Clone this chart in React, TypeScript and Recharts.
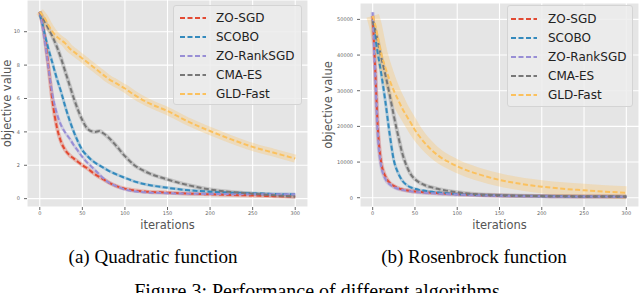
import React from 'react';
import { LineChart, Line, XAxis, YAxis, CartesianGrid, Label } from 'recharts';

// shared sample points (iterations)
const iterations = [0, 3, 6, 10, 15, 20, 25, 30, 35, 40, 45, 50, 55, 60, 65, 70, 75, 80, 90, 100, 110, 125, 150, 175, 200, 225, 250, 275, 300];
const xTicks = [0, 50, 100, 150, 200, 250, 300];

// (a) Quadratic function
const quadZoSgd = [11.2, 10.5, 9.6, 8.0, 5.8, 4.3, 3.4, 2.9, 2.6, 2.4, 2.2, 2.0, 1.85, 1.65, 1.45, 1.3, 1.15, 1.0, 0.75, 0.6, 0.5, 0.42, 0.36, 0.3, 0.26, 0.22, 0.19, 0.15, 0.12];
const quadScobo = [11.0, 10.5, 9.8, 9.0, 8.1, 7.2, 6.4, 5.5, 4.7, 4.0, 3.4, 2.9, 2.6, 2.35, 2.15, 2.0, 1.85, 1.7, 1.45, 1.25, 1.05, 0.85, 0.65, 0.5, 0.42, 0.36, 0.32, 0.28, 0.26];
const quadRank = [11.2, 10.4, 9.4, 7.9, 6.2, 5.1, 4.4, 3.95, 3.6, 3.2, 2.85, 2.5, 2.2, 1.95, 1.7, 1.45, 1.2, 1.0, 0.75, 0.55, 0.45, 0.38, 0.33, 0.3, 0.28, 0.27, 0.26, 0.26, 0.26];
const quadCma = [11.2, 10.9, 10.6, 10.2, 9.7, 9.1, 8.4, 7.6, 6.8, 6.0, 5.3, 4.7, 4.25, 4.05, 4.0, 4.05, 3.9, 3.7, 3.15, 2.55, 2.05, 1.6, 1.15, 0.8, 0.55, 0.4, 0.3, 0.2, 0.12];
const quadGld = [11.2, 11.0, 10.8, 10.4, 10.0, 9.7, 9.5, 9.3, 9.0, 8.8, 8.6, 8.4, 8.2, 8.0, 7.8, 7.6, 7.4, 7.2, 6.9, 6.6, 6.25, 5.8, 5.25, 4.6, 4.05, 3.55, 3.1, 2.75, 2.4];
const quadYTicks = [0, 2, 4, 6, 8, 10];

// (b) Rosenbrock function
const rosZoSgd = [51000, 36000, 20000, 10000, 6000, 4200, 3300, 2700, 2350, 2100, 1900, 1750, 1650, 1550, 1450, 1380, 1320, 1250, 1120, 1000, 900, 750, 600, 500, 450, 400, 350, 330, 300];
const rosScobo = [50000, 45000, 40500, 35000, 27000, 18000, 10500, 7000, 4800, 3600, 2900, 2500, 2200, 2000, 1800, 1650, 1500, 1400, 1200, 1000, 900, 750, 600, 500, 430, 380, 340, 320, 300];
const rosRank = [52000, 34000, 18000, 9000, 5300, 3800, 3000, 2500, 2200, 2000, 1800, 1650, 1500, 1400, 1300, 1250, 1200, 1100, 1000, 900, 800, 700, 550, 450, 400, 350, 330, 310, 300];
const rosCma = [49500, 47000, 44000, 39500, 34500, 29000, 23000, 17500, 12500, 9000, 6600, 5200, 4300, 3700, 3200, 2900, 2600, 2300, 1900, 1550, 1250, 950, 700, 550, 450, 400, 360, 340, 320];
const rosGld = [51000, 48500, 45000, 40500, 36500, 33000, 30000, 27500, 25000, 23000, 21000, 19000, 17300, 15800, 14500, 13300, 12300, 11400, 10000, 8800, 7800, 6600, 5000, 3900, 3100, 2500, 2100, 1700, 1400];
const rosYTicks = [0, 10000, 20000, 30000, 40000, 50000];

const seriesNames = ['ZO-SGD', 'SCOBO', 'ZO-RankSGD', 'CMA-ES', 'GLD-Fast'];
const colors = ['#E24A33', '#348ABD', '#988ED5', '#777777', '#FBC15E'];

const FONT = '"DejaVu Sans", sans-serif';
const SERIF = '"Liberation Serif", "Times New Roman", serif';

type PanelProps = {
  left: number;
  values: number[][];
  yDomain: [number, number];
  yTicks: number[];
  yAxisWidth: number;
  marginTop: number;
  marginRight: number;
  labelX: number;
  bandWidths: number[];
  legend: { left: number; top: number; width: number; height: number; sampleX: number; textX: number; firstY: number };
};

const YTitle = (props: any) => {
  const { viewBox, cx } = props;
  const cy = viewBox.y + viewBox.height / 2;
  return (
    <text x={cx} y={cy} transform={`rotate(-90 ${cx} ${cy})`} textAnchor="middle" dominantBaseline="central"
      fontFamily={FONT} fontSize={11.5} fill="#555">
      objective value
    </text>
  );
};

const Panel = ({ left, values, yDomain, yTicks, yAxisWidth, marginTop, marginRight, labelX, bandWidths, legend }: PanelProps) => {
  const rows = iterations.map((it, i) => {
    const row: any = { it };
    values.forEach((v, s) => { row['s' + s] = v[i]; });
    return row;
  });
  const tickStyle = { fontSize: 5, fill: '#666', fontFamily: FONT };

  return (
    <div style={{ position: 'absolute', left, top: 0, width: 320, height: 232 }}>
      <LineChart width={320} height={232} data={rows} margin={{ top: marginTop, right: marginRight, bottom: 0, left: 0 }}>
        <CartesianGrid fill="#E5E5E5" stroke="#ffffff" strokeWidth={1.1} />
        <XAxis type="number" dataKey="it" domain={[-15, 315]} ticks={xTicks} allowDataOverflow
          height={25} axisLine={false} tickSize={3} tickMargin={1} tickLine={{ stroke: '#666' }} tick={tickStyle}>
          <Label value="iterations" position="insideBottom" offset={3} style={{ fontFamily: FONT, fontSize: 11.5, fill: '#555' }} />
        </XAxis>
        <YAxis type="number" domain={yDomain} ticks={yTicks} allowDataOverflow width={yAxisWidth}
          axisLine={false} tickSize={3} tickMargin={4} tickLine={{ stroke: '#666' }} tick={tickStyle}>
          <Label content={(p: any) => <YTitle {...p} cx={labelX} />} />
        </YAxis>
        {values.map((_, s) => (
          <Line key={'band' + s} dataKey={'s' + s} type="monotone" stroke={colors[s]} strokeOpacity={0.3}
            strokeWidth={bandWidths[s]} dot={false} activeDot={false} isAnimationActive={false} legendType="none" />
        ))}
        {values.map((_, s) => (
          <Line key={'line' + s} dataKey={'s' + s} name={seriesNames[s]} type="monotone" stroke={colors[s]}
            strokeWidth={2} strokeDasharray="5 2.5" dot={false} activeDot={false} isAnimationActive={false} />
        ))}
      </LineChart>
      <div style={{
        position: 'absolute', left: legend.left, top: legend.top, width: legend.width, height: legend.height,
        background: 'rgba(236,236,236,0.85)', border: '1px solid #d4d4d4', borderRadius: 3, boxSizing: 'border-box',
      }}>
        {seriesNames.map((name, s) => (
          <div key={name} style={{ position: 'absolute', left: 0, top: legend.firstY + s * 19 - 8, height: 16, width: '100%' }}>
            <svg width={30} height={16} style={{ position: 'absolute', left: legend.sampleX, top: 0 }}>
              <line x1={0} y1={8} x2={26} y2={8} stroke={colors[s]} strokeWidth={1.8} strokeDasharray="5 2.5" />
            </svg>
            <span style={{ position: 'absolute', left: legend.textX, top: 0, lineHeight: '16px', fontFamily: FONT, fontSize: 12, color: '#222', whiteSpace: 'nowrap' }}>
              {name}
            </span>
          </div>
        ))}
      </div>
    </div>
  );
};

const App = () => (
  <div style={{ position: 'absolute', left: 0, top: 0, width: 640, height: 293, background: '#fff', overflow: 'hidden' }}>
    <Panel
      left={0}
      values={[quadZoSgd, quadScobo, quadRank, quadCma, quadGld]}
      yDomain={[-0.5, 11.9]}
      yTicks={quadYTicks}
      yAxisWidth={27}
      marginTop={0}
      marginRight={12}
      labelX={7}
      bandWidths={[4, 3, 3, 4, 8]}
      legend={{ left: 173, top: 5, width: 129, height: 100, sampleX: 6, textX: 42, firstY: 12 }}
    />
    <Panel
      left={320}
      values={[rosZoSgd, rosScobo, rosRank, rosCma, rosGld]}
      yDomain={[-2600, 54600]}
      yTicks={rosYTicks}
      yAxisWidth={40}
      marginTop={3}
      marginRight={1}
      labelX={8}
      bandWidths={[4, 3, 4, 4, 13]}
      legend={{ left: 187, top: 5, width: 126, height: 102, sampleX: 3, textX: 40, firstY: 13 }}
    />
    <div style={{ position: 'absolute', left: 53, top: 247, width: 200, textAlign: 'center', fontFamily: SERIF, fontSize: 19, lineHeight: '19px', color: '#000', whiteSpace: 'nowrap' }}>
      (a) Quadratic function
    </div>
    <div style={{ position: 'absolute', left: 374, top: 247, width: 200, textAlign: 'center', fontFamily: SERIF, fontSize: 19, lineHeight: '19px', color: '#000', whiteSpace: 'nowrap' }}>
      (b) Rosenbrock function
    </div>
    <div style={{ position: 'absolute', left: 117, top: 281, width: 400, textAlign: 'center', fontFamily: SERIF, fontSize: 20, lineHeight: '20px', color: '#000', whiteSpace: 'nowrap' }}>
      Figure 3: Performance of different algorithms
    </div>
  </div>
);

export default App;
